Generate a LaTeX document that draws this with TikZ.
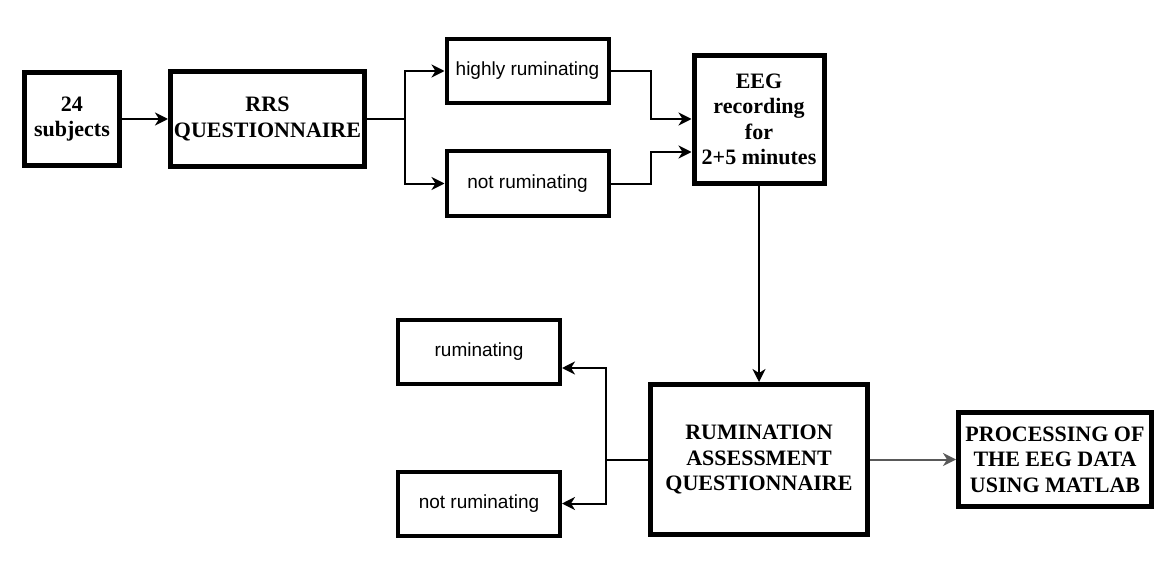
\documentclass[tikz,border=0pt]{standalone}
\usepackage{fontspec}
\setmainfont{Liberation Serif}
\newfontfamily\sansf{Liberation Sans}
\usetikzlibrary{arrows.meta,calc}
\tikzset{
  boldbox/.style={draw, line width=5pt, inner sep=0pt, align=center,
    font=\fontsize{22}{25.5}\selectfont\bfseries},
  plainbox/.style={draw, line width=4pt, inner sep=0pt, align=center,
    minimum width=162pt, minimum height=64pt,
    font=\fontsize{19}{22}\selectfont\sansf},
  conn/.style={line width=2pt},
  arr/.style={conn, -{Stealth[length=13pt,width=13pt,inset=4pt]}},
}
\begin{document}
\begin{tikzpicture}[x=1pt,y=-1pt]
\useasboundingbox (0,0) rectangle (1167,583);
\node[boldbox, minimum width=95pt, minimum height=93pt] (A) at (72,119) {24\\subjects};
\node[boldbox, minimum width=194pt, minimum height=94pt] (B) at (267.5,119) {RRS\\QUESTIONNAIRE};
\node[plainbox, minimum height=64pt] (C) at (527.5,71) {highly ruminating};
\node[plainbox, minimum height=64pt] (D) at (527.5,183.5) {not ruminating};
\node[boldbox, minimum width=130pt, minimum height=128pt] (E) at (759,119.5) {EEG\\recording\\for\\2+5 minutes};
\node[boldbox, minimum width=217pt, minimum height=150pt] (F) at (759,459.5) {RUMINATION\\ASSESSMENT\\QUESTIONNAIRE};
\node[plainbox] (G) at (479,352) {ruminating};
\node[plainbox] (H) at (479,503.5) {not ruminating};
\node[boldbox, minimum width=193pt, minimum height=94pt] (I) at (1055,459.5) {PROCESSING OF\\THE EEG DATA\\USING MATLAB};
% connectors
\coordinate (j1) at (405,0);
\coordinate (j2) at (651,0);
\coordinate (j3) at (606,0);
\coordinate (ein1) at ($(E.west)+(0,-0.5)$);
\coordinate (ein2) at ($(E.west)+(0,32.5)$);
\coordinate (gin) at ($(G.east)+(0,16)$);
\draw[arr] (A) -- (B);
\draw[conn] (B.east) -- (B.east -| j1);
\draw[arr] (B.east -| j1) |- (C.west);
\draw[arr] (B.east -| j1) |- (D.west);
\draw[arr] (C.east) -- (C.east -| j2) |- (ein1);
\draw[arr] (D.east) -- (D.east -| j2) |- (ein2);
\draw[arr] (E.south) -- (F.north);
\draw[conn] (F.west) -- (F.west -| j3);
\draw[arr] (F.west -| j3) |- (gin);
\draw[arr] (F.west -| j3) |- (H.east);
\draw[arr, draw=black!65] (F.east) -- (I.west);
\end{tikzpicture}
\end{document}
